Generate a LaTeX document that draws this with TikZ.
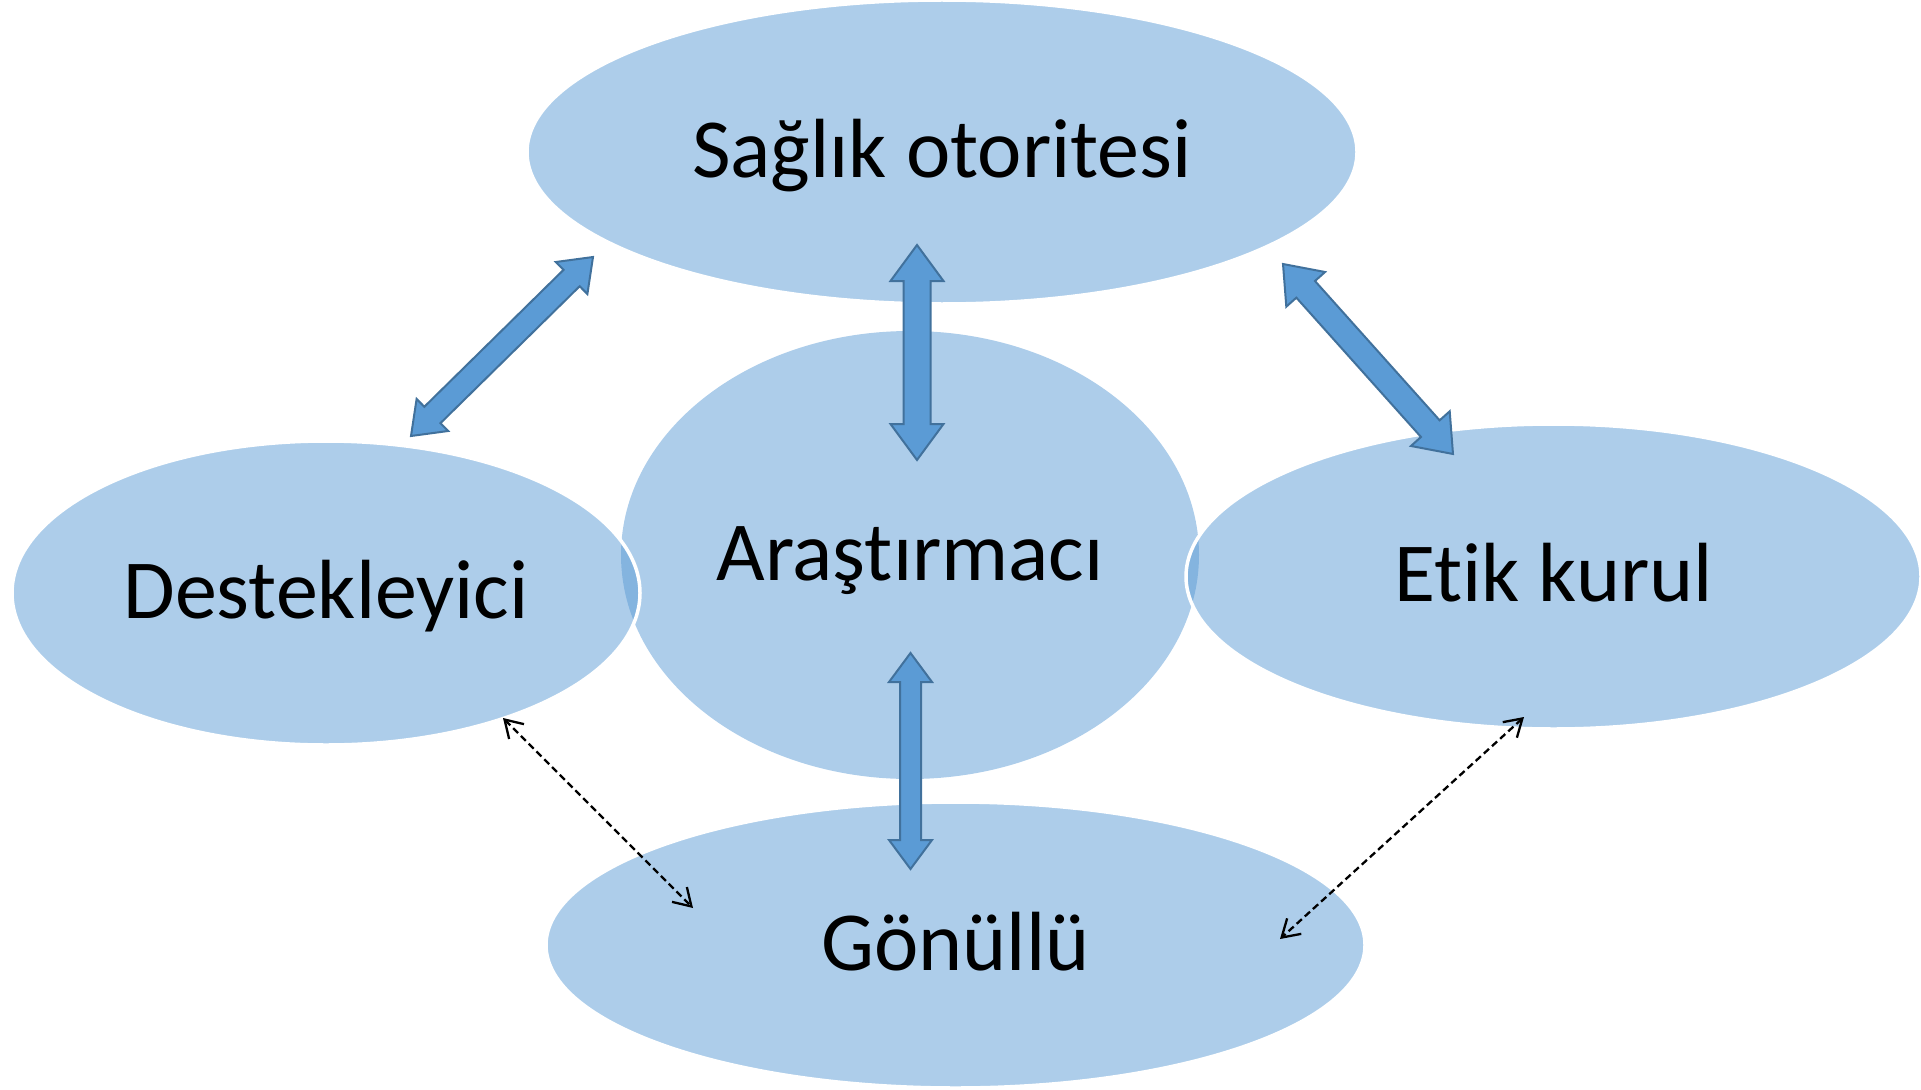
\documentclass[tikz,border=0pt]{standalone}
\usepackage{fontspec}
\setmainfont{Carlito}[Ligatures=NoCommon]
\usetikzlibrary{shapes.geometric,arrows.meta,calc}
\definecolor{ellblue}{HTML}{5B9BD5}
\definecolor{arrfill}{HTML}{5B9BD5}
\definecolor{arrline}{HTML}{41719C}
\tikzset{
  ell/.style={ellipse, fill=ellblue, fill opacity=0.5, text opacity=1, draw=white, line width=3.5pt,
    inner sep=0pt, text height=68pt, text depth=18pt, font=\fontsize{84}{100}\selectfont},
  blockarr/.style={fill=arrfill, draw=arrline, line width=2pt, line join=miter},
  dasharr/.style={draw=black, line width=2.3pt, dash pattern=on 7pt off 4pt,
    {Straight Barb[length=17pt,width=21pt,line width=2.3pt]}-{Straight Barb[length=17pt,width=21pt,line width=2.3pt]}}
}
\newcommand{\blockarrow}[5]{%
  \path[blockarr] let \p1=(#1), \p2=(#2), \n1={atan2(\y2-\y1,\x2-\x1)}, \n2={veclen(\x2-\x1,\y2-\y1)} in
    [shift={(\p1)}, rotate=\n1]
    (0pt,0pt) -- (#5pt,#4pt) -- (#5pt,#3pt) -- ({\n2-#5pt},#3pt) -- ({\n2-#5pt},#4pt) -- (\n2,0pt)
    -- ({\n2-#5pt},-#4pt) -- ({\n2-#5pt},-#3pt) -- (#5pt,-#3pt) -- (#5pt,-#4pt) -- cycle;}
\begin{document}
\begin{tikzpicture}[x=1pt,y=-1pt]
\useasboundingbox (0,0) rectangle (1921,1089);
% ellipses
\node[ell, minimum width=830pt, minimum height=304pt] (sag) at (942,152) {Sağlık otoritesi};
\node[ell, draw=none, minimum width=578pt, minimum height=448pt] (ara) at (910,555) {Araştırmacı};
\node[ell, minimum width=628pt, minimum height=304pt] (dest) at (326,593) {Destekleyici};
\node[ell, minimum width=735pt, minimum height=305pt] (etik) at (1553.5,576.5) {Etik kurul};
\node[ell, minimum width=819pt, minimum height=286pt] (gon) at (955.5,945) {Gönüllü};
% connector end points
\coordinate (a1s) at ($(sag.center)+(-25,93)$);
\coordinate (a1e) at ($(ara.center)+(7,-95)$);
\coordinate (a2s) at ($(ara.center)+(0.5,98)$);
\coordinate (a2e) at ($(gon.center)+(-45,-76)$);
\coordinate (a3s) at ($(dest.center)+(85,-157)$);
\coordinate (a3e) at ($(sag.center)+(-349,105)$);
\coordinate (a4s) at ($(sag.center)+(341,112)$);
\coordinate (a4e) at ($(etik.center)+(-100.5,-122.5)$);
\coordinate (d1s) at ($(dest.center)+(177,125)$);
\coordinate (d1e) at ($(gon.center)+(-262.5,-37)$);
\coordinate (d2s) at ($(etik.center)+(-29.5,140.5)$);
\coordinate (d2e) at ($(gon.center)+(324.5,-6)$);
% block arrows
\blockarrow{a1s}{a1e}{13.5}{26.5}{36}
\blockarrow{a2s}{a2e}{10.5}{21.5}{29}
\blockarrow{a3s}{a3e}{11.5}{22.5}{30}
\blockarrow{a4s}{a4e}{12.5}{26}{34}
% dashed arrows
\draw[dasharr] (d1s) -- (d1e);
\draw[dasharr] (d2s) -- (d2e);
\end{tikzpicture}
\end{document}
